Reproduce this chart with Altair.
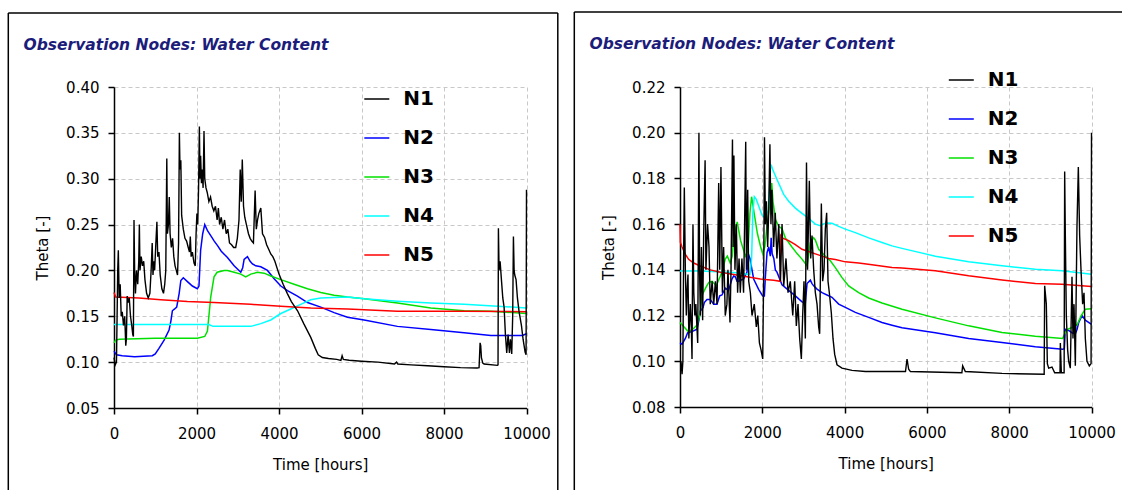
import altair as alt
import pandas as pd

TITLE = "Observation Nodes: Water Content"
X_TITLE = "Time [hours]"
Y_TITLE = "Theta [-]"
NODES = ["N1", "N2", "N3", "N4", "N5"]
COLORS = ["#000000", "#0000ff", "#00e000", "#00ffff", "#ff0000"]
X_TICKS = [0, 2000, 4000, 6000, 8000, 10000]
L_Y_TICKS = [0.05, 0.10, 0.15, 0.20, 0.25, 0.30, 0.35, 0.40]
R_Y_TICKS = [0.08, 0.10, 0.12, 0.14, 0.16, 0.18, 0.20, 0.22]

# ---------------- left panel (time [h], theta) ----------------
L_N1 = [(0, 0.105), (30, 0.097), (60, 0.100), (90, 0.20), (105, 0.222), (125, 0.17), (150, 0.185),
        (175, 0.15), (200, 0.155), (230, 0.14), (260, 0.15), (285, 0.118), (300, 0.125), (320, 0.172),
        (345, 0.165), (370, 0.17), (400, 0.15), (430, 0.14), (455, 0.13), (470, 0.128), (485, 0.255),
        (500, 0.2), (520, 0.175), (545, 0.2), (575, 0.185), (600, 0.21), (615, 0.25), (630, 0.2),
        (660, 0.215), (690, 0.205), (720, 0.21), (750, 0.19), (790, 0.175), (830, 0.17), (870, 0.175),
        (900, 0.2), (926, 0.23), (945, 0.195), (965, 0.21), (985, 0.2), (1010, 0.225), (1040, 0.253),
        (1060, 0.215), (1090, 0.22), (1120, 0.195), (1160, 0.18), (1200, 0.175), (1230, 0.185),
        (1255, 0.2), (1280, 0.322), (1295, 0.24), (1320, 0.25), (1340, 0.28), (1360, 0.24),
        (1390, 0.225), (1420, 0.235), (1450, 0.215), (1480, 0.205), (1510, 0.2), (1540, 0.195),
        (1565, 0.23), (1585, 0.35), (1600, 0.31), (1620, 0.32), (1640, 0.26), (1680, 0.245),
        (1720, 0.235), (1760, 0.232), (1800, 0.225), (1830, 0.22), (1850, 0.237), (1870, 0.215),
        (1900, 0.22), (1940, 0.208), (1970, 0.205), (1990, 0.24), (2010, 0.262), (2030, 0.25),
        (2050, 0.29), (2070, 0.357), (2085, 0.3), (2100, 0.325), (2120, 0.295), (2140, 0.31),
        (2160, 0.29), (2182, 0.352), (2200, 0.3), (2230, 0.29), (2260, 0.285), (2300, 0.275),
        (2340, 0.28), (2380, 0.27), (2420, 0.265), (2460, 0.27), (2500, 0.255), (2530, 0.268),
        (2560, 0.25), (2600, 0.258), (2640, 0.245), (2680, 0.255), (2720, 0.24), (2760, 0.245),
        (2800, 0.23), (2850, 0.228), (2900, 0.225), (2950, 0.225), (2990, 0.235), (3030, 0.255),
        (3060, 0.31), (3085, 0.275), (3110, 0.321), (3140, 0.27), (3170, 0.258), (3210, 0.25),
        (3260, 0.24), (3300, 0.235), (3340, 0.232), (3380, 0.23), (3421, 0.287), (3450, 0.245),
        (3480, 0.255), (3510, 0.262), (3559, 0.268), (3600, 0.24), (3650, 0.236), (3700, 0.228),
        (3750, 0.223), (3800, 0.218), (3850, 0.215), (3900, 0.21), (4000, 0.196), (4100, 0.185),
        (4200, 0.175), (4300, 0.166), (4450, 0.156), (4600, 0.142), (4770, 0.127), (4880, 0.115),
        (4950, 0.108), (5050, 0.105), (5200, 0.104), (5400, 0.103), (5500, 0.102), (5530, 0.107),
        (5560, 0.103), (5700, 0.102), (6000, 0.101), (6400, 0.1), (6800, 0.098), (6850, 0.1),
        (6880, 0.098), (7200, 0.097), (7600, 0.096), (8000, 0.095), (8400, 0.094), (8800, 0.0936),
        (8850, 0.094), (8875, 0.121), (8890, 0.118), (8907, 0.105), (8940, 0.099), (8972, 0.098),
        (9295, 0.0965), (9310, 0.097), (9319, 0.246), (9335, 0.2), (9360, 0.21), (9392, 0.19),
        (9425, 0.17), (9457, 0.16), (9489, 0.13), (9521, 0.11), (9554, 0.13), (9586, 0.11),
        (9610, 0.125), (9642, 0.109), (9665, 0.15), (9683, 0.237), (9700, 0.2), (9715, 0.195),
        (9747, 0.19), (9780, 0.17), (9820, 0.155), (9877, 0.14), (9917, 0.125), (9966, 0.111),
        (9990, 0.108), (10000, 0.288)]
L_N2 = [(0, 0.112), (60, 0.108), (200, 0.107), (500, 0.106), (930, 0.107), (1000, 0.109),
        (1090, 0.115), (1215, 0.124), (1335, 0.135), (1380, 0.145), (1415, 0.156), (1470, 0.158),
        (1520, 0.16), (1580, 0.175), (1620, 0.189), (1680, 0.192), (1800, 0.187), (1900, 0.183),
        (2020, 0.18), (2060, 0.183), (2100, 0.222), (2150, 0.24), (2200, 0.25), (2270, 0.243),
        (2345, 0.238), (2430, 0.232), (2510, 0.227), (2600, 0.221), (2750, 0.214), (2912, 0.205),
        (3073, 0.198), (3120, 0.203), (3154, 0.212), (3235, 0.215), (3300, 0.21), (3356, 0.207),
        (3437, 0.205), (3559, 0.204), (3720, 0.2), (3882, 0.191), (4044, 0.183), (4205, 0.178),
        (4447, 0.172), (4690, 0.165), (5013, 0.16), (5336, 0.154), (5660, 0.149), (6063, 0.146),
        (6872, 0.139), (7680, 0.1355), (8488, 0.132), (9135, 0.129), (9900, 0.129), (10000, 0.131)]
L_N3 = [(0, 0.121), (40, 0.124), (125, 0.125), (1000, 0.126), (2020, 0.126), (2200, 0.128),
        (2265, 0.134), (2300, 0.15), (2345, 0.171), (2425, 0.193), (2500, 0.198), (2670, 0.2),
        (2750, 0.2), (2912, 0.198), (3073, 0.196), (3194, 0.193), (3316, 0.196), (3478, 0.198),
        (3640, 0.197), (3800, 0.194), (4044, 0.19), (4366, 0.185), (4690, 0.18), (5013, 0.176),
        (5336, 0.173), (5660, 0.171), (6063, 0.169), (6872, 0.1645), (7680, 0.159), (8488, 0.156),
        (9135, 0.1555), (10000, 0.153)]
L_N4 = [(0, 0.141), (2300, 0.141), (2400, 0.139), (3316, 0.139), (3559, 0.142), (3800, 0.146),
        (4044, 0.153), (4285, 0.158), (4528, 0.163), (4770, 0.168), (5013, 0.17), (5660, 0.171),
        (6063, 0.169), (6872, 0.1665), (7680, 0.1645), (8488, 0.163), (9300, 0.161), (10000, 0.159)]
L_N5 = [(0, 0.176), (40, 0.171), (600, 0.17), (1135, 0.168), (1780, 0.166), (2425, 0.165),
        (3316, 0.163), (4044, 0.161), (4770, 0.159), (5660, 0.158), (6872, 0.1555), (8488, 0.1555),
        (10000, 0.155)]

# ---------------- right panel ----------------
R_N1 = [(0, 0.10), (24, 0.0998), (50, 0.0944), (70, 0.1), (90, 0.15), (105, 0.176), (130, 0.14),
        (154, 0.12), (170, 0.13), (194, 0.138), (215, 0.11), (250, 0.125), (275, 0.115), (292, 0.101),
        (300, 0.125), (315, 0.16), (335, 0.13), (360, 0.12), (385, 0.125), (430, 0.108), (445, 0.15),
        (460, 0.2), (475, 0.14), (495, 0.12), (520, 0.15), (550, 0.118), (575, 0.155), (610, 0.188),
        (630, 0.14), (670, 0.16), (705, 0.15), (735, 0.125), (780, 0.135), (820, 0.125), (860, 0.135),
        (900, 0.125), (940, 0.178), (965, 0.14), (995, 0.185), (1030, 0.13), (1060, 0.15), (1100, 0.12),
        (1140, 0.125), (1165, 0.14), (1215, 0.117), (1240, 0.14), (1275, 0.197), (1290, 0.15),
        (1310, 0.19), (1335, 0.14), (1370, 0.16), (1400, 0.13), (1435, 0.145), (1465, 0.13),
        (1505, 0.145), (1545, 0.13), (1570, 0.16), (1597, 0.196), (1615, 0.14), (1645, 0.175),
        (1670, 0.135), (1710, 0.13), (1750, 0.12), (1805, 0.125), (1855, 0.115), (1890, 0.12),
        (1930, 0.108), (1970, 0.105), (2010, 0.101), (2035, 0.14), (2053, 0.198), (2075, 0.16),
        (2100, 0.17), (2130, 0.15), (2155, 0.165), (2185, 0.195), (2210, 0.16), (2235, 0.175),
        (2275, 0.15), (2315, 0.165), (2355, 0.145), (2400, 0.16), (2440, 0.135), (2480, 0.16),
        (2520, 0.133), (2576, 0.145), (2625, 0.13), (2680, 0.135), (2740, 0.12), (2787, 0.135),
        (2827, 0.1155), (2868, 0.125), (2908, 0.11), (2949, 0.101), (2981, 0.12), (3013, 0.135),
        (3046, 0.11), (3074, 0.187), (3100, 0.14), (3143, 0.179), (3176, 0.145), (3208, 0.155),
        (3249, 0.14), (3289, 0.13), (3330, 0.125), (3370, 0.115), (3394, 0.112), (3435, 0.169),
        (3467, 0.135), (3500, 0.14), (3532, 0.158), (3564, 0.165), (3597, 0.135), (3629, 0.13),
        (3678, 0.121), (3718, 0.11), (3759, 0.103), (3816, 0.0985), (3937, 0.097), (4180, 0.096),
        (4504, 0.0955), (5152, 0.0955), (5480, 0.0955), (5517, 0.101), (5557, 0.0965), (5600, 0.0955),
        (6850, 0.095), (6869, 0.098), (6934, 0.0955), (7825, 0.0947), (8850, 0.0943), (8862, 0.133),
        (8902, 0.125), (8927, 0.099), (8959, 0.097), (9040, 0.0975), (9105, 0.095), (9235, 0.095),
        (9243, 0.108), (9267, 0.095), (9335, 0.095), (9348, 0.183), (9364, 0.155), (9388, 0.12),
        (9420, 0.105), (9445, 0.1), (9485, 0.097), (9526, 0.137), (9550, 0.11), (9575, 0.125),
        (9607, 0.098), (9647, 0.159), (9680, 0.185), (9712, 0.155), (9745, 0.14), (9785, 0.125),
        (9818, 0.13), (9850, 0.11), (9890, 0.1), (9947, 0.098), (9990, 0.099), (10000, 0.2)]
R_N2 = [(0, 0.108), (50, 0.1075), (130, 0.110), (186, 0.1125), (292, 0.113), (413, 0.114),
        (460, 0.118), (494, 0.122), (559, 0.1235), (591, 0.1257), (656, 0.127), (737, 0.127),
        (818, 0.125), (899, 0.125), (964, 0.1286), (1020, 0.129), (1100, 0.132), (1180, 0.131),
        (1263, 0.136), (1304, 0.1373), (1345, 0.137), (1385, 0.135), (1425, 0.135), (1547, 0.136),
        (1628, 0.139), (1660, 0.147), (1700, 0.145), (1750, 0.14), (1790, 0.136), (1911, 0.1315),
        (2009, 0.1286), (2050, 0.1286), (2075, 0.137), (2115, 0.1475), (2155, 0.150), (2195, 0.146),
        (2215, 0.154), (2240, 0.147), (2280, 0.145), (2317, 0.14), (2357, 0.139), (2479, 0.1335),
        (2641, 0.131), (2803, 0.1286), (2965, 0.126), (3046, 0.1255), (3087, 0.134), (3168, 0.1355),
        (3208, 0.134), (3249, 0.133), (3330, 0.1316), (3451, 0.13), (3572, 0.129), (3694, 0.128),
        (3856, 0.125), (4018, 0.1236), (4261, 0.1214), (4585, 0.1192), (4909, 0.117), (5152, 0.1158),
        (5395, 0.1147), (6205, 0.1125), (7015, 0.11), (7825, 0.1082), (8635, 0.1064), (9300, 0.1053),
        (9340, 0.1055), (9364, 0.114), (9445, 0.1135), (9526, 0.1125), (9607, 0.112), (9650, 0.114),
        (9690, 0.117), (9770, 0.12), (9850, 0.118), (10000, 0.1162)]
R_N3 = [(0, 0.117), (100, 0.115), (200, 0.113), (300, 0.1138), (420, 0.116), (480, 0.12),
        (540, 0.129), (620, 0.132), (700, 0.1345), (780, 0.135), (880, 0.133), (950, 0.136),
        (1020, 0.139), (1100, 0.1447), (1150, 0.146), (1220, 0.143), (1270, 0.146), (1310, 0.155),
        (1390, 0.161), (1430, 0.157), (1470, 0.153), (1590, 0.146), (1650, 0.148), (1700, 0.165),
        (1740, 0.172), (1800, 0.165), (1880, 0.156), (1960, 0.15), (2010, 0.147), (2060, 0.15),
        (2120, 0.16), (2200, 0.172), (2230, 0.178), (2260, 0.17), (2320, 0.162), (2400, 0.159),
        (2480, 0.158), (2560, 0.154), (2720, 0.15), (2850, 0.147), (2965, 0.1447), (3087, 0.1418),
        (3168, 0.152), (3249, 0.154), (3290, 0.153), (3370, 0.149), (3532, 0.146), (3653, 0.144),
        (3775, 0.141), (3937, 0.1366), (4099, 0.133), (4342, 0.13), (4585, 0.1277), (4909, 0.1255),
        (5395, 0.1228), (6205, 0.119), (7015, 0.1155), (7825, 0.1126), (8635, 0.111), (9300, 0.110),
        (9350, 0.112), (9420, 0.114), (9550, 0.115), (9650, 0.116), (9750, 0.12), (9850, 0.1228),
        (10000, 0.123)]
R_N4 = [(0, 0.1395), (495, 0.1395), (1300, 0.1388), (1700, 0.138), (1740, 0.145), (1770, 0.165),
        (1806, 0.172), (1850, 0.171), (1993, 0.164), (2050, 0.163), (2150, 0.166), (2195, 0.184),
        (2215, 0.186), (2250, 0.184), (2357, 0.1795), (2519, 0.173), (2641, 0.17), (2803, 0.167),
        (2965, 0.1647), (3127, 0.1625), (3289, 0.16), (3411, 0.1593), (3500, 0.1602), (3572, 0.1605),
        (3694, 0.1604), (3856, 0.159), (4018, 0.1578), (4261, 0.1563), (4585, 0.154), (4909, 0.152),
        (5152, 0.1505), (5395, 0.1494), (6205, 0.146), (7015, 0.1435), (7825, 0.1418), (8635, 0.1403),
        (9283, 0.1396), (10000, 0.1381)]
R_N5 = [(0, 0.160), (10, 0.152), (50, 0.150), (130, 0.1468), (210, 0.1446), (332, 0.143),
        (494, 0.1417), (737, 0.140), (980, 0.139), (1304, 0.138), (1628, 0.137), (1952, 0.136),
        (2276, 0.1355), (2438, 0.135), (2445, 0.155), (2479, 0.154), (2641, 0.1528), (2803, 0.151),
        (2965, 0.149), (3127, 0.148), (3289, 0.147), (3451, 0.146), (3613, 0.145), (3775, 0.1445),
        (4018, 0.1435), (4342, 0.143), (4666, 0.1422), (5152, 0.141), (5395, 0.1408), (6205, 0.1396),
        (7015, 0.1374), (7825, 0.1356), (8635, 0.134), (9283, 0.1337), (10000, 0.1327)]


def frame(series):
    rows = []
    for name, pts in zip(NODES, series):
        for t, v in pts:
            rows.append({"t": t, "theta": v, "node": name})
    return pd.DataFrame(rows)


def panel(series, yticks, w, h, lx, ly, top, right_x, right_border):
    df = frame(series)
    color = alt.Color(
        "node:N",
        scale=alt.Scale(domain=NODES, range=COLORS),
        legend=alt.Legend(
            title=None, orient="none", legendX=lx, legendY=ly, padding=0,
            symbolType="stroke", symbolSize=625, symbolStrokeWidth=1.5,
            labelFont="DejaVu Sans", labelFontSize=20, labelFontWeight="bold",
            labelColor="black", labelOffset=13, rowPadding=15,
        ),
    )
    x = alt.X(
        "t:Q",
        scale=alt.Scale(domain=[0, 10000], nice=False, zero=False),
        axis=alt.Axis(values=X_TICKS, format="d", title=X_TITLE, labelFlush=False,
                      labelPadding=12, titlePadding=16),
    )
    y = alt.Y(
        "theta:Q",
        scale=alt.Scale(domain=[yticks[0], yticks[-1]], nice=False, zero=False),
        axis=alt.Axis(values=yticks, format=".2f", title=Y_TITLE, labelPadding=9,
                      titlePadding=15),
    )
    base = alt.Chart(df).encode(x=x, y=y, color=color)
    others = base.transform_filter(alt.datum.node != "N1").mark_line(strokeWidth=1.5)
    n1 = base.transform_filter(alt.datum.node == "N1").mark_line(strokeWidth=1.4)

    one = alt.Data(values=[{"label": TITLE}])
    rule = dict(color="black", strokeWidth=1.5)
    left_edge = alt.Chart(one).mark_rule(**rule).encode(
        x=alt.value(-105.7), x2=alt.value(-105.7), y=alt.value(top), y2=alt.value(403))
    top_edge = alt.Chart(one).mark_rule(**rule).encode(
        x=alt.value(-105.7), x2=alt.value(right_x), y=alt.value(top), y2=alt.value(top))
    layers = [others, n1, left_edge, top_edge]
    if right_border:
        layers.append(alt.Chart(one).mark_rule(**rule).encode(
            x=alt.value(right_x), x2=alt.value(right_x), y=alt.value(top), y2=alt.value(403)))
    title = alt.Chart(one).mark_text(
        align="left", baseline="middle", font="DejaVu Sans", fontSize=15.5,
        fontWeight="bold", fontStyle="italic", color="#1c1c7a",
    ).encode(x=alt.value(-90.5), y=alt.value(top + 31.5), text="label:N")
    layers.append(title)
    return alt.layer(*layers).properties(width=w, height=h)


left = panel([L_N1, L_N2, L_N3, L_N4, L_N5], L_Y_TICKS, 412.5, 321, 249.3, -1.5, -74, 443.8, True)
right = panel([R_N1, R_N2, R_N3, R_N4, R_N5], R_Y_TICKS, 411.5, 320, 267.8, -20.5, -75, 442, False)

chart = (
    alt.hconcat(left, right, spacing=14)
    .resolve_scale(color="independent")
    .resolve_legend(color="independent")
    .properties(padding={"left": 7, "top": 11, "right": 0, "bottom": 0}, background="white")
    .configure_view(stroke=None)
    .configure_axis(
        domainColor="black", domainWidth=1.5, tickColor="black", tickWidth=1.5, tickSize=6,
        gridColor="#c8c8c8", gridDash=[4, 3], gridWidth=1,
        labelFont="DejaVu Sans", labelFontSize=15, labelColor="black",
        titleFont="DejaVu Sans", titleFontSize=15, titleFontWeight="normal", titleColor="black",
    )
)

chart.save("out.html", embed_options={"renderer": "svg", "actions": False})
